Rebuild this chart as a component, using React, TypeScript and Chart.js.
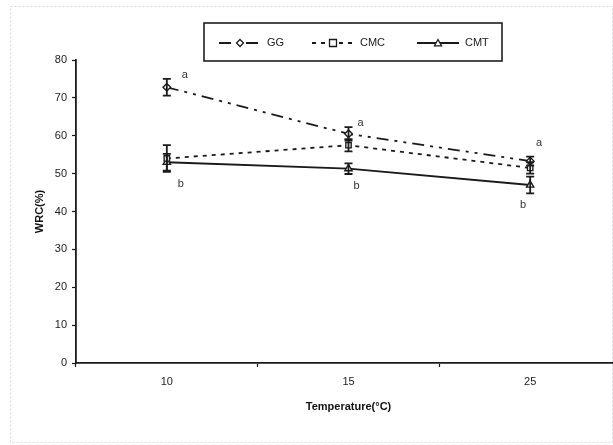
import React, { useEffect, useRef } from "react";
import { Chart, registerables } from "chart.js";

Chart.register(...registerables);

const categories = ["10", "15", "25"];
const ggValues = [72.8, 60.5, 53.3];
const ggErrors = [2.2, 1.8, 1.2];
const cmcValues = [54, 57.5, 51.5];
const cmcErrors = [3.5, 1.6, 1.5];
const cmtValues = [53, 51.3, 47];
const cmtErrors = [2.2, 1.4, 2.2];
const upperLetters = ["a", "a", "a"];
const lowerLetters = ["b", "b", "b"];
const yTicks = [0, 10, 20, 30, 40, 50, 60, 70, 80];

const FONT = "'Liberation Sans', Arial, sans-serif";
const INK = "#1a1a1a";

const seriesStyles = [
  { label: "GG", data: ggValues, err: ggErrors, dash: [12, 6, 3, 6, 3, 6], pointStyle: "rectRot", radius: 3.8 },
  { label: "CMC", data: cmcValues, err: cmcErrors, dash: [4, 5], pointStyle: "rect", radius: 3.8 },
  { label: "CMT", data: cmtValues, err: cmtErrors, dash: [] as number[], pointStyle: "triangle", radius: 4.2 },
];

// pixel offsets of the significance letters relative to the category centre
const upperOffsets = [
  [18, -4],
  [12, -4],
  [9, -14],
];
const lowerOffsets = [
  [14, 12],
  [8, 12],
  [-7, 12],
];

const errorBarPlugin = {
  id: "errorBars",
  afterDatasetsDraw(chart: any) {
    const { ctx, scales } = chart;
    const y = scales.y;
    chart.data.datasets.forEach((ds: any, i: number) => {
      const meta = chart.getDatasetMeta(i);
      const errs: number[] = ds.errors || [];
      meta.data.forEach((pt: any, j: number) => {
        const v = ds.data[j];
        const e = errs[j] || 0;
        const top = y.getPixelForValue(v + e);
        const bot = y.getPixelForValue(v - e);
        ctx.save();
        ctx.strokeStyle = INK;
        ctx.lineWidth = 1.8;
        ctx.setLineDash([]);
        ctx.beginPath();
        ctx.moveTo(pt.x, top);
        ctx.lineTo(pt.x, bot);
        ctx.moveTo(pt.x - 4, top);
        ctx.lineTo(pt.x + 4, top);
        ctx.moveTo(pt.x - 4, bot);
        ctx.lineTo(pt.x + 4, bot);
        ctx.stroke();
        ctx.restore();
      });
    });
  },
};

const lettersPlugin = {
  id: "letters",
  afterDatasetsDraw(chart: any) {
    const { ctx, scales } = chart;
    const x = scales.x;
    const y = scales.y;
    ctx.save();
    ctx.fillStyle = "#333";
    ctx.font = `11px ${FONT}`;
    ctx.textAlign = "center";
    ctx.textBaseline = "middle";
    categories.forEach((_, j) => {
      const px = x.getPixelForValue(j);
      const hi = Math.max(ggValues[j] + ggErrors[j], cmcValues[j] + cmcErrors[j]);
      const lo = Math.min(cmtValues[j] - cmtErrors[j], cmcValues[j] - cmcErrors[j]);
      ctx.fillText(upperLetters[j], px + upperOffsets[j][0], y.getPixelForValue(hi) + upperOffsets[j][1]);
      ctx.fillText(lowerLetters[j], px + lowerOffsets[j][0], y.getPixelForValue(lo) + lowerOffsets[j][1]);
    });
    ctx.restore();
  },
};

function drawMarker(ctx: CanvasRenderingContext2D, style: string, cx: number, cy: number, r: number) {
  ctx.beginPath();
  if (style === "rectRot") {
    ctx.moveTo(cx, cy - r);
    ctx.lineTo(cx + r, cy);
    ctx.lineTo(cx, cy + r);
    ctx.lineTo(cx - r, cy);
    ctx.closePath();
  } else if (style === "rect") {
    ctx.rect(cx - r, cy - r, 2 * r, 2 * r);
  } else {
    ctx.moveTo(cx, cy - r);
    ctx.lineTo(cx + r, cy + r * 0.8);
    ctx.lineTo(cx - r, cy + r * 0.8);
    ctx.closePath();
  }
  ctx.fillStyle = "#fff";
  ctx.fill();
  ctx.setLineDash([]);
  ctx.lineWidth = 1.3;
  ctx.strokeStyle = INK;
  ctx.stroke();
}

const legendPlugin = {
  id: "boxLegend",
  afterDraw(chart: any) {
    const { ctx } = chart;
    ctx.save();
    ctx.strokeStyle = "#111";
    ctx.lineWidth = 1.5;
    ctx.setLineDash([]);
    ctx.strokeRect(204, 23, 298, 38);
    const cy = 43;
    const starts = [219, 312, 417];
    ctx.font = `11px ${FONT}`;
    ctx.textBaseline = "middle";
    ctx.textAlign = "left";
    seriesStyles.forEach((s, i) => {
      const x0 = starts[i];
      const x1 = x0 + 42;
      ctx.strokeStyle = INK;
      ctx.lineWidth = 1.8;
      ctx.setLineDash(s.dash.length ? (i === 0 ? [12, 6, 3, 6] : [4, 5]) : []);
      ctx.beginPath();
      ctx.moveTo(x0, cy);
      ctx.lineTo(x1, cy);
      ctx.stroke();
      drawMarker(ctx, s.pointStyle, (x0 + x1) / 2, cy, 3.5);
      ctx.fillStyle = "#222";
      ctx.fillText(s.label, x1 + 6, cy);
    });
    ctx.restore();
  },
};

const framePlugin = {
  id: "frame",
  beforeDraw(chart: any) {
    const { ctx } = chart;
    ctx.save();
    ctx.fillStyle = "#fff";
    ctx.fillRect(0, 0, chart.width, chart.height);
    ctx.strokeStyle = "#d8d8e0";
    ctx.lineWidth = 1;
    ctx.setLineDash([2, 2]);
    ctx.strokeRect(10.5, 6.5, 602, 436);
    ctx.restore();
  },
};

export default function App() {
  const ref = useRef<HTMLCanvasElement | null>(null);

  useEffect(() => {
    document.body.style.margin = "0";
    if (!ref.current) return;
    const chart = new Chart(ref.current, {
      type: "line",
      data: {
        labels: categories,
        datasets: seriesStyles.map((s) => ({
          label: s.label,
          data: s.data,
          errors: s.err,
          borderColor: INK,
          borderWidth: 1.8,
          borderDash: s.dash,
          pointStyle: s.pointStyle,
          pointRadius: s.radius,
          pointBackgroundColor: "#fff",
          pointBorderColor: INK,
          pointBorderWidth: 1.4,
          tension: 0,
          fill: false,
        })) as any,
      },
      options: {
        animation: false,
        responsive: false,
        maintainAspectRatio: false,
        devicePixelRatio: 1,
        layout: { padding: { top: 60, right: 9, left: 0, bottom: 0 } },
        plugins: {
          legend: { display: false },
          tooltip: { enabled: false },
        },
        scales: {
          x: {
            type: "category",
            offset: true,
            grid: {
              offset: true,
              drawOnChartArea: false,
              drawTicks: true,
              tickLength: 4,
              color: INK,
              tickWidth: 1.2,
            },
            border: { display: true, color: INK, width: 1.8 },
            ticks: {
              color: "#222",
              font: { family: FONT, size: 11 },
              padding: 8,
            },
            title: {
              display: true,
              text: "Temperature(°C)",
              color: "#111",
              font: { family: FONT, size: 11, weight: "bold" },
              padding: { top: 0, bottom: 31 },
            },
            afterFit(scale: any) {
              scale.height = 82;
            },
          },
          y: {
            min: 0,
            max: 80,
            afterBuildTicks(scale: any) {
              scale.ticks = yTicks.map((v) => ({ value: v }));
            },
            grid: {
              drawOnChartArea: false,
              drawTicks: true,
              tickLength: 4,
              color: INK,
              tickWidth: 1.2,
            },
            border: { display: true, color: INK, width: 1.8 },
            ticks: {
              color: "#222",
              font: { family: FONT, size: 11 },
              padding: 5,
            },
            title: {
              display: true,
              text: "WRC(%)",
              color: "#111",
              font: { family: FONT, size: 11, weight: "bold" },
              padding: { top: 33, bottom: 0 },
            },
            afterFit(scale: any) {
              scale.width = 76;
            },
          },
        },
      },
      plugins: [framePlugin, errorBarPlugin, lettersPlugin, legendPlugin],
    });
    return () => chart.destroy();
  }, []);

  return (
    <div style={{ position: "fixed", left: 0, top: 0, width: 613, height: 445, overflow: "hidden", background: "#fff" }}>
      <canvas ref={ref} width={630} height={445} style={{ width: 630, height: 445, display: "block" }} />
    </div>
  );
}
